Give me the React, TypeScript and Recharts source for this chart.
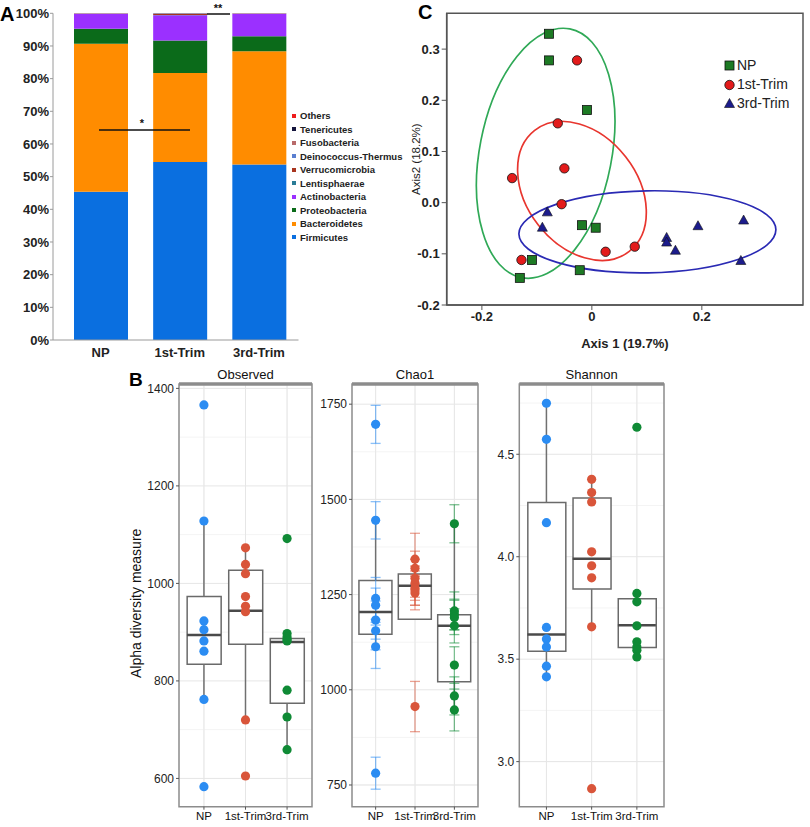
import React from "react"
import {
  BarChart,
  Bar,
  XAxis,
  YAxis,
  ComposedChart,
  Scatter,
  ScatterChart,
  ErrorBar,
  CartesianGrid,
  ReferenceArea,
} from "recharts"

const groups = ["NP", "1st-Trim", "3rd-Trim"]

// ---- A: relative abundance (%) by phylum, values for NP / 1st-Trim / 3rd-Trim
const phyla = [
  "Firmicutes",
  "Bacteroidetes",
  "Proteobacteria",
  "Actinobacteria",
  "Lentisphaerae",
  "Verrucomicrobia",
  "Deinococcus-Thermus",
  "Fusobacteria",
  "Tenericutes",
  "Others",
]
const firmicutes = [45.4, 54.5, 53.7]
const bacteroidetes = [45.3, 27.2, 34.7]
const proteobacteria = [4.6, 10.0, 4.6]
const actinobacteria = [4.5, 7.7, 6.8]
const lentisphaerae = [0.05, 0.05, 0.05]
const verrucomicrobia = [0.05, 0.35, 0.05]
const deinococcus = [0.03, 0.05, 0.02]
const fusobacteria = [0.02, 0.1, 0.03]
const tenericutes = [0.02, 0.03, 0.02]
const others = [0.03, 0.02, 0.03]
const phylumValues = [
  firmicutes,
  bacteroidetes,
  proteobacteria,
  actinobacteria,
  lentisphaerae,
  verrucomicrobia,
  deinococcus,
  fusobacteria,
  tenericutes,
  others,
]
const phylumColors = [
  "#0a6fe0",
  "#ff8c00",
  "#0b6b1a",
  "#9b30ff",
  "#2a7c96",
  "#a8351f",
  "#5a7fd0",
  "#b86a6a",
  "#14143c",
  "#ee1c1c",
]
const percentTicks = [0, 10, 20, 30, 40, 50, 60, 70, 80, 90, 100]

const compositionRows = groups.map((g, i) => {
  const row: Record<string, any> = { group: g }
  phyla.forEach((p, j) => (row[p] = phylumValues[j][i]))
  return row
})

// ---- C: PCoA coordinates
const npAxis1 = [-0.078, -0.078, -0.009, -0.018, 0.007, -0.109, -0.131, -0.022]
const npAxis2 = [0.33, 0.278, 0.181, -0.044, -0.049, -0.112, -0.147, -0.132]
const firstAxis1 = [-0.027, -0.062, -0.05, -0.145, -0.055, -0.128, 0.025, 0.078]
const firstAxis2 = [0.278, 0.155, 0.067, 0.048, -0.003, -0.112, -0.096, -0.086]
const thirdAxis1 = [-0.081, -0.09, 0.136, 0.136, 0.152, 0.193, 0.276, 0.271]
const thirdAxis2 = [-0.019, -0.049, -0.069, -0.078, -0.094, -0.046, -0.035, -0.114]
const ellipseCenterX = [-0.084, -0.018, 0.101]
const ellipseCenterY = [0.0965, 0.023, -0.057]

const pts = (xs: number[], ys: number[]) => xs.map((x, i) => ({ x, y: ys[i] }))
const npPoints = pts(npAxis1, npAxis2)
const firstPoints = pts(firstAxis1, firstAxis2)
const thirdPoints = pts(thirdAxis1, thirdAxis2)
const ellipseRows = groups.map((g, i) => ({ group: g, x: ellipseCenterX[i], y: ellipseCenterY[i] }))

const ellipseStyle: Record<string, { rx: number; ry: number; rot: number; color: string }> = {
  NP: { rx: 126.7, ry: 66, rot: 101, color: "#30a957" },
  "1st-Trim": { rx: 76.8, ry: 55.4, rot: 52, color: "#e8362f" },
  "3rd-Trim": { rx: 128.5, ry: 41, rot: -1, color: "#2a2ab4" },
}

// ---- B: alpha diversity
const observedNP = [1366, 1128, 923, 905, 882, 861, 762, 583]
const observedFirst = [1073, 1039, 1020, 973, 953, 942, 720, 605]
const observedThird = [1092, 897, 890, 885, 882, 781, 726, 659]
const observedStats = {
  low: [762, 720, 659],
  q1: [834, 875, 754],
  median: [894, 944, 880],
  q3: [973, 1027, 887],
  high: [1128, 1073, 897],
}

const chao1NP = [1697, 1445, 1240, 1222, 1183, 1155, 1113, 781]
const chao1NPse = [50, 49, 55, 45, 50, 50, 57, 42]
const chao1First = [1343, 1319, 1293, 1280, 1267, 1254, 1262, 956]
const chao1FirstSe = [68, 45, 50, 45, 45, 44, 40, 66]
const chao1Third = [1436, 1207, 1198, 1190, 1168, 1065, 984, 947]
const chao1ThirdSe = [50, 50, 40, 45, 45, 48, 50, 55]
const chao1Stats = {
  low: [1113, 1185, 947],
  q1: [1146, 1185, 1021],
  median: [1204, 1273, 1168],
  q3: [1287, 1304, 1197],
  high: [1445, 1343, 1436],
}

const shannonNP = [4.749, 4.573, 4.166, 3.655, 3.599, 3.56, 3.466, 3.414]
const shannonFirst = [4.378, 4.313, 4.267, 4.024, 3.956, 3.897, 3.658, 2.868]
const shannonThird = [4.632, 3.821, 3.78, 3.663, 3.585, 3.56, 3.544, 3.511]
const shannonStats = {
  low: [3.414, 3.658, 3.511],
  q1: [3.539, 3.842, 3.557],
  median: [3.621, 3.99, 3.666],
  q3: [4.265, 4.287, 3.795],
  high: [4.749, 4.378, 3.821],
}

const groupColors = ["#2b8cf2", "#d9553a", "#0f8a35"]

type Stats = { low: number[]; q1: number[]; median: number[]; q3: number[]; high: number[] }

function BoxFacet(props: {
  title: string
  left: number
  width: number
  yWidth: number
  domain: [number, number]
  major: number[]
  minor: number[]
  fmt: (v: number) => string
  stats: Stats
  values: number[][]
  errors?: number[][]
  boxSize: number
  yLabel?: string
}) {
  const { stats, boxSize } = props
  const boxRows = groups.map((_, i) => ({ x: i + 1, box: [stats.q1[i], stats.q3[i]] }))
  const upper = groups.map((_, i) => ({ x: i + 1, y: stats.q3[i], err: [0, stats.high[i] - stats.q3[i]] }))
  const lower = groups.map((_, i) => ({ x: i + 1, y: stats.q1[i], err: [stats.q1[i] - stats.low[i], 0] }))
  const medians = groups.map((_, i) => ({ x: i + 1, y: stats.median[i] }))
  const hidden = () => <g />

  return (
    <div style={{ position: "absolute", left: props.left, top: 360 }}>
      <ComposedChart width={props.width} height={467} data={boxRows} margin={{ top: 0, right: 2, bottom: 0, left: 0 }}>
        <CartesianGrid
          horizontalValues={[...props.major, ...props.minor]}
          verticalValues={[1, 2, 3]}
          stroke="#f4f4f4"
          strokeWidth={1}
        />
        <CartesianGrid horizontalValues={props.major} verticalValues={[1, 2, 3]} stroke="#e6e6e6" strokeWidth={1} />
        <XAxis
          type="number"
          dataKey="x"
          domain={[0.4, 3.6]}
          ticks={[1, 2, 3]}
          interval={0}
          allowDataOverflow
          tickFormatter={(v: number) => groups[v - 1]}
          height={20.3}
          axisLine={false}
          tickSize={3}
          tickLine={{ stroke: "#555" }}
          tick={{ fontSize: 11.5, fill: "#111" }}
        />
        <XAxis
          xAxisId="top"
          orientation="top"
          type="number"
          domain={[0.4, 3.6]}
          allowDataOverflow
          ticks={[]}
          tick={false}
          tickLine={false}
          height={24}
          axisLine={{ stroke: "#8c8c8c", strokeWidth: 3.5 }}
          label={{ value: props.title, position: "insideTop", offset: 10, fontSize: 13, fill: "#111" }}
        />
        <YAxis
          type="number"
          dataKey="y"
          domain={props.domain}
          ticks={props.major}
          allowDataOverflow
          tickFormatter={props.fmt}
          width={props.yWidth}
          axisLine={false}
          tickSize={3}
          tickLine={{ stroke: "#555" }}
          tick={{ fontSize: 12, fill: "#222" }}
          label={
            props.yLabel
              ? { value: props.yLabel, angle: -90, position: "center", dx: -3, dy: 8, fontSize: 14, fill: "#111" }
              : undefined
          }
        />
        <ReferenceArea
          x1={0.4}
          x2={3.6}
          y1={props.domain[0]}
          y2={props.domain[1]}
          fill="none"
          stroke="#8c8c8c"
          strokeWidth={1.5}
          ifOverflow="visible"
        />
        <Bar dataKey="box" barSize={boxSize} fill="#fff" stroke="#6a6a6a" strokeWidth={1.5} isAnimationActive={false} />
        <Scatter data={upper} shape={hidden} isAnimationActive={false}>
          <ErrorBar dataKey="err" direction="y" width={0} stroke="#707070" strokeWidth={1.5} />
        </Scatter>
        <Scatter data={lower} shape={hidden} isAnimationActive={false}>
          <ErrorBar dataKey="err" direction="y" width={0} stroke="#707070" strokeWidth={1.5} />
        </Scatter>
        <Scatter
          data={medians}
          isAnimationActive={false}
          shape={(p: any) => (
            <line
              x1={p.cx - boxSize / 2}
              x2={p.cx + boxSize / 2}
              y1={p.cy}
              y2={p.cy}
              stroke="#4a4a4a"
              strokeWidth={2.5}
            />
          )}
        />
        {groups.map((g, gi) => {
          const rows = props.values[gi].map((v, k) => ({
            x: gi + 1,
            y: v,
            err: props.errors ? props.errors[gi][k] : 0,
          }))
          return (
            <Scatter
              key={g}
              data={rows}
              isAnimationActive={false}
              shape={(p: any) => <circle cx={p.cx} cy={p.cy} r={4.6} fill={groupColors[gi]} />}
            >
              {props.errors && (
                <ErrorBar
                  dataKey="err"
                  direction="y"
                  width={5}
                  stroke={groupColors[gi]}
                  strokeOpacity={0.55}
                  strokeWidth={1.3}
                />
              )}
            </Scatter>
          )
        })}
      </ComposedChart>
    </div>
  )
}

const squareShape = (p: any) => (
  <rect x={p.cx - 4.5} y={p.cy - 4.5} width={9} height={9} fill="#1d7a24" stroke="#111" strokeWidth={0.8} />
)
const circleShape = (p: any) => <circle cx={p.cx} cy={p.cy} r={4.7} fill="#e31b1b" stroke="#111" strokeWidth={0.8} />
const triangleShape = (p: any) => (
  <path
    d={`M${p.cx},${p.cy - 5.5}L${p.cx + 5},${p.cy + 3.5}L${p.cx - 5},${p.cy + 3.5}Z`}
    fill="#1c1c8c"
    stroke="#111"
    strokeWidth={0.6}
  />
)
const ellipseShape = (p: any) => {
  const s = ellipseStyle[p.payload.group]
  return (
    <ellipse
      cx={p.cx}
      cy={p.cy}
      rx={s.rx}
      ry={s.ry}
      transform={`rotate(${s.rot} ${p.cx} ${p.cy})`}
      fill="none"
      stroke={s.color}
      strokeWidth={1.7}
    />
  )
}

const panelLetter: React.CSSProperties = {
  position: "absolute",
  fontWeight: "bold",
  fontSize: 20,
  color: "#000",
  lineHeight: 1,
}

export default function App() {
  return (
    <div
      style={{
        position: "absolute",
        left: 0,
        top: 0,
        width: 810,
        height: 827,
        background: "#fff",
        overflow: "hidden",
        fontFamily: '"Liberation Sans", Arial, sans-serif',
      }}
    >
      {/* A */}
      <div style={{ position: "absolute", left: 0, top: 0, width: 400, height: 360 }}>
        <BarChart width={300} height={360} data={compositionRows} margin={{ top: 13.3, right: 1.5, bottom: 0, left: 3 }}>
          <XAxis
            dataKey="group"
            padding={{ left: 8, right: 0 }}
            height={20}
            tickLine={false}
            axisLine={{ stroke: "#9a9a9a" }}
            tick={{ fontSize: 13, fontWeight: "bold", fill: "#222" }}
          />
          <YAxis
            domain={[0, 100]}
            ticks={percentTicks}
            tickFormatter={(v: number) => `${v}%`}
            width={50}
            tickSize={3}
            tickMargin={1}
            axisLine={{ stroke: "#9a9a9a" }}
            tickLine={{ stroke: "#9a9a9a" }}
            tick={{ fontSize: 13, fontWeight: "bold", fill: "#222" }}
          />
          {phyla.map((p, j) => (
            <Bar key={p} dataKey={p} stackId="a" fill={phylumColors[j]} barSize={54} isAnimationActive={false} />
          ))}
        </BarChart>
        <svg width={300} height={360} style={{ position: "absolute", left: 0, top: 0, pointerEvents: "none" }}>
          <line x1={99} x2={190} y1={130} y2={130} stroke="#111" strokeWidth={1.5} />
          <text x={142} y={127} fontSize={11} fontWeight="bold" textAnchor="middle" fill="#111">
            *
          </text>
          <line x1={207} x2={230} y1={14} y2={14} stroke="#111" strokeWidth={1.5} />
          <text x={218} y={12} fontSize={11} fontWeight="bold" textAnchor="middle" fill="#111">
            **
          </text>
        </svg>
        <div style={{ position: "absolute", left: 290, top: 109, whiteSpace: "nowrap" }}>
          {phyla
            .map((p, j) => ({ p, c: phylumColors[j] }))
            .reverse()
            .map(({ p, c }) => (
              <div
                key={p}
                style={{ display: "flex", alignItems: "center", height: 13.5, fontSize: 9.5, fontWeight: "bold", color: "#222" }}
              >
                <span style={{ width: 4, height: 4, background: c, marginRight: 4, marginLeft: 2, flexShrink: 0 }} />
                {p}
              </div>
            ))}
        </div>
      </div>
      <div style={{ ...panelLetter, left: 0, top: 4 }}>A</div>

      {/* C */}
      <div style={{ position: "absolute", left: 400, top: 0 }}>
        <ScatterChart width={410} height={360} margin={{ top: 13.3, right: 7, bottom: 0, left: 0.7 }}>
          <XAxis
            type="number"
            dataKey="x"
            domain={[-0.264, 0.384]}
            ticks={[-0.2, 0, 0.2]}
            allowDataOverflow
            tickFormatter={(v: number) => (v === 0 ? "0" : v.toFixed(1))}
            height={55}
            tickSize={5}
            axisLine={{ stroke: "#555", strokeWidth: 1.5 }}
            tickLine={{ stroke: "#555" }}
            tick={{ fontSize: 13, fontWeight: "bold", fill: "#222" }}
            label={{ value: "Axis 1 (19.7%)", position: "insideBottom", offset: 12, fontSize: 13, fontWeight: "bold", fill: "#222" }}
          />
          <YAxis
            type="number"
            dataKey="y"
            domain={[-0.2, 0.37]}
            ticks={[-0.2, -0.1, 0, 0.1, 0.2, 0.3]}
            allowDataOverflow
            tickFormatter={(v: number) => v.toFixed(1)}
            width={46}
            tickSize={5}
            axisLine={{ stroke: "#555", strokeWidth: 1.5 }}
            tickLine={{ stroke: "#555" }}
            tick={{ fontSize: 13, fontWeight: "bold", fill: "#222" }}
            label={{ value: "Axis2 (18.2%)", angle: -90, position: "center", dx: -8, fontSize: 11.5, fill: "#222" }}
          />
          <ReferenceArea
            x1={-0.264}
            x2={0.384}
            y1={-0.2}
            y2={0.37}
            fill="none"
            stroke="#555"
            strokeWidth={1.5}
            ifOverflow="visible"
          />
          <Scatter data={ellipseRows} shape={ellipseShape} isAnimationActive={false} />
          <Scatter data={npPoints} shape={squareShape} isAnimationActive={false} />
          <Scatter data={firstPoints} shape={circleShape} isAnimationActive={false} />
          <Scatter data={thirdPoints} shape={triangleShape} isAnimationActive={false} />
        </ScatterChart>
        <div style={{ position: "absolute", left: 324, top: 56, fontSize: 14, color: "#222", lineHeight: "19px" }}>
          {[
            { label: "NP", shape: <rect x={1} y={1} width={9} height={9} fill="#1d7a24" stroke="#111" strokeWidth={0.8} /> },
            { label: "1st-Trim", shape: <circle cx={5.5} cy={6} r={4.7} fill="#e31b1b" stroke="#111" strokeWidth={0.8} /> },
            { label: "3rd-Trim", shape: <path d="M5.5,0.5L10.5,9.5L0.5,9.5Z" fill="#1c1c8c" stroke="#111" strokeWidth={0.6} /> },
          ].map((it) => (
            <div key={it.label} style={{ display: "flex", alignItems: "center" }}>
              <svg width={12} height={12} style={{ marginRight: 1 }}>
                {it.shape}
              </svg>
              {it.label}
            </div>
          ))}
        </div>
      </div>
      <div style={{ ...panelLetter, left: 418, top: 2 }}>C</div>

      {/* B */}
      <BoxFacet
        title="Observed"
        left={100}
        width={214}
        yWidth={79}
        domain={[542, 1409]}
        major={[600, 800, 1000, 1200, 1400]}
        minor={[700, 900, 1100, 1300]}
        fmt={(v) => String(v)}
        stats={observedStats}
        values={[observedNP, observedFirst, observedThird]}
        boxSize={34}
        yLabel="Alpha diversity measure"
      />
      <BoxFacet
        title="Chao1"
        left={300}
        width={180}
        yWidth={52}
        domain={[693, 1803]}
        major={[750, 1000, 1250, 1500, 1750]}
        minor={[875, 1125, 1375, 1625]}
        fmt={(v) => String(v)}
        stats={chao1Stats}
        values={[chao1NP, chao1First, chao1Third]}
        errors={[chao1NPse, chao1FirstSe, chao1ThirdSe]}
        boxSize={33}
      />
      <BoxFacet
        title="Shannon"
        left={480}
        width={186}
        yWidth={39.3}
        domain={[2.78, 4.843]}
        major={[3.0, 3.5, 4.0, 4.5]}
        minor={[3.25, 3.75, 4.25, 4.75]}
        fmt={(v) => v.toFixed(1)}
        stats={shannonStats}
        values={[shannonNP, shannonFirst, shannonThird]}
        boxSize={38}
      />
      <div style={{ ...panelLetter, left: 129, top: 370, fontSize: 19 }}>B</div>
    </div>
  )
}
